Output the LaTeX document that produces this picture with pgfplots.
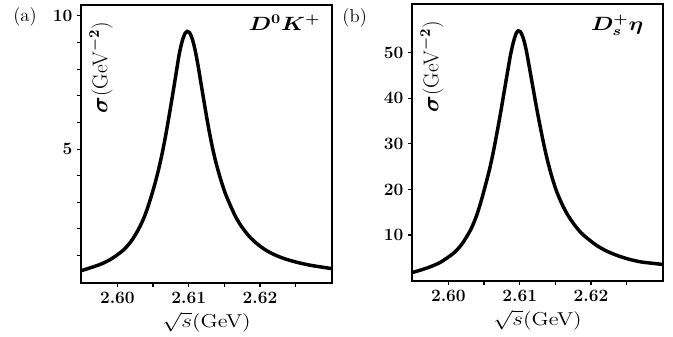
\documentclass[border=0pt]{standalone}
\usepackage{pgfplots}
\pgfplotsset{compat=1.18}
\usepackage{graphicx}
\usepackage{amsmath}
\newcommand{\hs}[1]{\scalebox{1.2}[1]{#1}}
\newcommand{\tf}{\fontsize{13}{15}\selectfont\bfseries}
\newcommand{\lf}{\fontsize{14}{16}\selectfont}
\newcommand{\yf}{\fontsize{16}{18}\selectfont}
\pgfplotsset{
  common/.style={
    scale only axis, width=188.25pt,
    tick align=outside, tick pos=left,
    major tick length=3pt, minor tick length=3pt,
    axis line style={line width=0.9pt, black},
    every tick/.style={black, line width=0.8pt},
    minor tick style={black, line width=0.8pt},
    xmin=2.5949, xmax=2.6301,
    xtick={2.60,2.61,2.62},
    xticklabels={2.60,2.61,2.62},
    minor xtick={2.605,2.615,2.625},
    ticklabel style={font=\tf},
    xlabel={\hs{$\sqrt{s}$(GeV)}},
    xlabel style={at={(axis description cs:0.5,-0.142)}, anchor=center, font=\lf},
    ylabel={$\boldsymbol{\sigma}$(GeV$^{\boldsymbol{-2}}$)},
    ylabel style={at={(axis description cs:0.08,0.955)}, anchor=east, font=\yf},
  }
}
\begin{document}
\begin{tikzpicture}
\useasboundingbox (0,0) rectangle (504.75pt,-252pt);
\begin{axis}[common, at={(60.75pt,-3.75pt)}, anchor=north west,
  height=208.5pt, ymin=-0.03, ymax=10.41,
  ytick={5,10}, yticklabels={5,10},
  minor ytick={1,2,3,4,6,7,8,9}]
\addplot[black, line width=2.6pt, smooth] coordinates {
(2.5949,0.43) (2.5962,0.54) (2.5976,0.67) (2.5988,0.82) (2.5999,1.01)
(2.6009,1.22) (2.6018,1.49) (2.6025,1.77) (2.6032,2.11) (2.6038,2.47)
(2.6043,2.84) (2.6048,3.27) (2.6053,3.73) (2.6058,4.26) (2.6063,4.86)
(2.6068,5.55) (2.6073,6.32) (2.6078,7.12) (2.6083,7.95) (2.6087,8.60)
(2.6091,9.06) (2.6095,9.35) (2.6098,9.42) (2.6101,9.38) (2.6105,9.14)
(2.6109,8.72) (2.6113,8.16) (2.6118,7.35) (2.6123,6.55) (2.6128,5.78)
(2.6133,5.10) (2.6138,4.52) (2.6144,3.94) (2.6151,3.36) (2.6159,2.85)
(2.6167,2.40) (2.6176,2.02) (2.6186,1.69) (2.6197,1.42) (2.6209,1.19)
(2.6223,1.00) (2.6237,0.86) (2.6253,0.74) (2.6270,0.64) (2.6286,0.57)
(2.6301,0.51)
};
\node[anchor=base east, font=\fontsize{14}{16}\selectfont] at (rel axis cs:0.972,0.910) {\hs{\boldmath$D^{0}K^{+}$}};
\end{axis}
\begin{axis}[common, at={(309pt,-3pt)}, anchor=north west,
  height=207.75pt, ymin=-0.09, ymax=60.68,
  ytick={10,20,30,40,50}, yticklabels={10,20,30,40,50}]
\addplot[black, line width=2.6pt, smooth] coordinates {
(2.5949,1.75) (2.5962,2.35) (2.5975,3.05) (2.5988,3.95) (2.5999,5.05)
(2.6009,6.25) (2.6018,7.80) (2.6025,9.45) (2.6032,11.4) (2.6038,13.6)
(2.6043,15.9) (2.6048,18.6) (2.6053,21.5) (2.6058,24.6) (2.6063,28.2)
(2.6068,32.3) (2.6073,36.6) (2.6078,41.2) (2.6083,45.8) (2.6087,49.4)
(2.6091,52.2) (2.6095,54.2) (2.6098,54.8) (2.6101,54.6) (2.6105,53.2)
(2.6109,50.7) (2.6113,47.3) (2.6118,42.9) (2.6123,38.5) (2.6128,34.4)
(2.6133,30.5) (2.6138,27.0) (2.6144,23.4) (2.6151,19.9) (2.6159,16.9)
(2.6167,14.5) (2.6176,12.4) (2.6186,10.5) (2.6197,9.0) (2.6209,7.6)
(2.6223,6.4) (2.6237,5.5) (2.6253,4.7) (2.6270,4.1) (2.6286,3.8)
(2.6300,3.55)
};
\node[anchor=base east, font=\fontsize{14}{16}\selectfont] at (rel axis cs:0.940,0.906) {\hs{\boldmath$D_{s}^{+}\eta$}};
\end{axis}
\node[font=\fontsize{14}{16}\selectfont] at (18.75pt,-12.75pt) {(a)};
\node[font=\fontsize{14}{16}\selectfont] at (266pt,-13.5pt) {(b)};
\end{tikzpicture}
\end{document}
